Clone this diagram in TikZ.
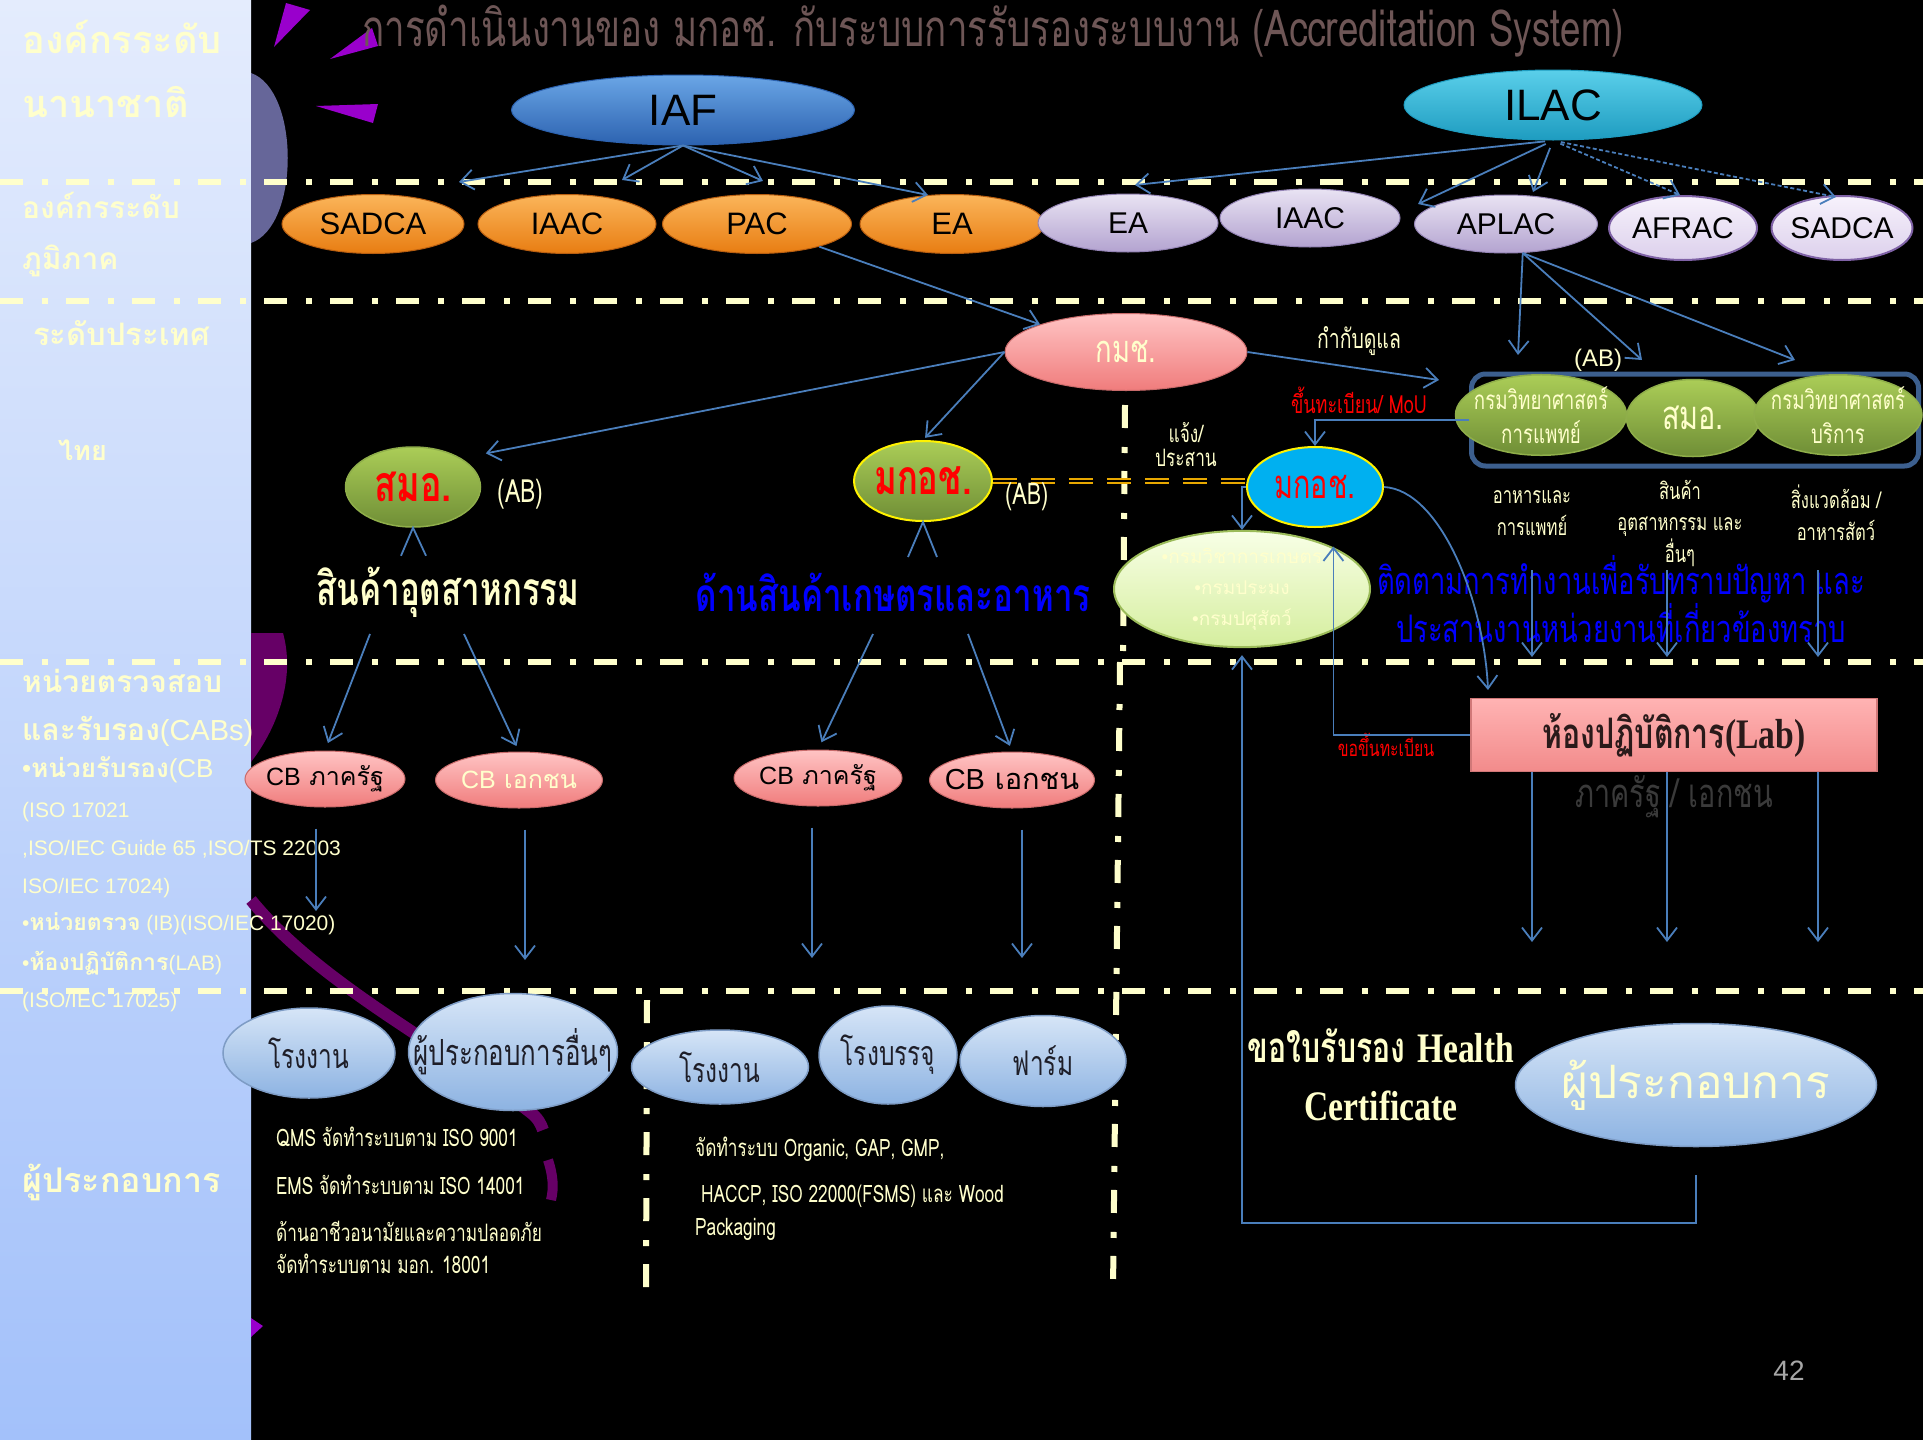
\documentclass[tikz,border=0pt]{standalone}
\usepackage{fontspec}
\setmainfont{Liberation Sans}
\newfontfamily\latsans{Liberation Sans}
\newfontfamily\thaifont[Script=Thai]{Loma}
\newfontfamily\thainarrow[Script=Thai,FakeStretch=0.72]{Loma}
\newfontfamily\serifnarrow[FakeStretch=0.8]{Liberation Serif}
\usetikzlibrary{shapes.geometric}
\usetikzlibrary{arrows.meta, positioning}

\newcommand{\fsz}[1]{\fontsize{#1}{#1}\selectfont}
\newcommand{\bul}{{\latsans\textbullet}}

\definecolor{cream}{HTML}{FFFFCC}
\definecolor{arrblue}{HTML}{4A7EBB}
\definecolor{paneltop}{HTML}{E4ECFD}
\definecolor{panelbot}{HTML}{A3C1FA}
\definecolor{slate}{HTML}{666699}
\definecolor{violetdeco}{HTML}{9900CC}
\definecolor{plumdeco}{HTML}{660066}
\definecolor{titlegrey}{HTML}{6E5656}
\definecolor{iaftop}{HTML}{6AA6E6}
\definecolor{iafbot}{HTML}{2C62B0}
\definecolor{ilactop}{HTML}{5ACFEA}
\definecolor{ilacbot}{HTML}{1E9CC0}
\definecolor{orgtop}{HTML}{FBB55A}
\definecolor{orgbot}{HTML}{E87D12}
\definecolor{orgline}{HTML}{B85E10}
\definecolor{lavtop}{HTML}{E9E3F3}
\definecolor{lavbot}{HTML}{B3A3D0}
\definecolor{lavline}{HTML}{9484B5}
\definecolor{paltop}{HTML}{F7F2FC}
\definecolor{palbot}{HTML}{DCD0EC}
\definecolor{palline}{HTML}{7F62A6}
\definecolor{pnktop}{HTML}{FFC4C4}
\definecolor{pnkbot}{HTML}{F07C7C}
\definecolor{pnkline}{HTML}{C86A6A}
\definecolor{grntop}{HTML}{ABCD57}
\definecolor{grnbot}{HTML}{6F8E36}
\definecolor{grnline}{HTML}{8FAE4A}
\definecolor{skyblue}{HTML}{00B0F0}
\definecolor{paletop}{HTML}{F8FFE6}
\definecolor{palebot}{HTML}{D5EE9E}
\definecolor{paleline}{HTML}{9BBB59}
\definecolor{bubtop}{HTML}{D6E5F7}
\definecolor{bubbot}{HTML}{8DB3E2}
\definecolor{bubline}{HTML}{7E9CC5}
\definecolor{bubtext}{HTML}{1E1E28}
\definecolor{labtop}{HTML}{FFB3B3}
\definecolor{labbot}{HTML}{F28B8B}
\definecolor{labline}{HTML}{D17878}
\definecolor{labtext}{HTML}{2A1A1A}
\definecolor{boxblue}{HTML}{3C5F8E}
\definecolor{gold}{HTML}{E8A800}
\definecolor{sectorgrey}{HTML}{3A3A3A}
\definecolor{numgrey}{HTML}{A6A6A6}

\begin{document}
\begin{tikzpicture}[x=1pt, y=-1pt,
  levelline/.style={draw=cream, line width=6, dash pattern=on 23pt off 19pt on 6pt off 18pt},
  arr/.style={draw=arrblue, line width=1.8, -{Straight Barb[length=13pt,width=20pt]}},
  dotarr/.style={arr, dash pattern=on 4pt off 2.5pt},
  goldlink/.style={draw=gold, line width=1.5, double=black, double distance=2.5, dash pattern=on 24pt off 14pt},
  lefttxt/.style={anchor=base west, text=cream, inner sep=0},
  note/.style={text=cream, inner sep=0},
  oval/.style={ellipse, inner sep=0pt, line width=1},
  orgoval/.style={oval, minimum height=59, top color=orgtop, bottom color=orgbot, draw=orgline, font=\latsans\fsz{31}},
  lavoval/.style={oval, minimum width=180, minimum height=58, top color=lavtop, bottom color=lavbot, draw=lavline, font=\latsans\fsz{30}},
  paloval/.style={oval, minimum height=64, top color=paltop, bottom color=palbot, draw=palline, line width=2, font=\latsans\fsz{30}},
  greencirc/.style={oval, top color=grntop, bottom color=grnbot, draw=grnline, line width=1.5},
  pinkoval/.style={oval, inner xsep=-6pt, top color=pnktop, bottom color=pnkbot, draw=pnkline, font=\thaifont\fsz{25}},
  bubble/.style={oval, top color=bubtop, bottom color=bubbot, draw=bubline, line width=1.5, text=bubtext, font=\thainarrow\fsz{34}}
]
\useasboundingbox (0,0) rectangle (1923,1440);

% Draw background
\fill[black] (0,0) rectangle (1923,1440);
\shade[top color=paneltop, bottom color=panelbot] (0,0) rectangle (251,1440);

% Draw decorations
\fill[slate] (251,73) .. controls (300,90) and (300,226) .. (251,243) -- cycle;
\fill[violetdeco] (274,47) -- (286,3) -- (310,10) -- cycle;
\fill[violetdeco] (330,59) -- (372,28) -- (378,46) -- cycle;
\fill[violetdeco] (316,106) -- (378,104) -- (373,123) -- cycle;
\fill[violetdeco] (251,1318) -- (263,1326) -- (251,1337) -- cycle;
\fill[plumdeco] (251,633) -- (283,633) .. controls (296,680) and (276,730) .. (251,762) -- cycle;
\draw[plumdeco, line width=12] (251,900) .. controls (320,985) and (450,1050) .. (530,1112) .. controls (538,1118) and (541,1124) .. (543,1130);
\draw[plumdeco, line width=10] (548,1160) .. controls (553,1175) and (554,1188) .. (551,1200);

% Draw level lines
\foreach \y in {182,301,662,991}
  \draw[levelline] (0,\y) -- (1923,\y);
\draw[levelline] (1125,405) -- (1123,662);
\draw[levelline] (1120,662) -- (1113,1290);
\draw[levelline] (647,1000) -- (646,1290);

% Draw title
\node[text=titlegrey, font=\thainarrow\fsz{51}] (title) at (993,31) {การดำเนินงานของ มกอช. กับระบบการรับรองระบบงาน (Accreditation System)};

% Draw level names
\node[lefttxt, font=\thaifont\bfseries\fsz{38}] (intlA) at (22,53) {องค์กรระดับ};
\node[lefttxt, font=\thaifont\bfseries\fsz{38}] (intlB) at (22,117) {นานาชาติ};
\node[lefttxt, font=\thaifont\bfseries\fsz{30}] (regA) at (22,218) {องค์กรระดับ};
\node[lefttxt, font=\thaifont\bfseries\fsz{30}] (regB) at (22,269) {ภูมิภาค};
\node[lefttxt, font=\thaifont\bfseries\fsz{31}] (natA) at (33,345) {ระดับประเทศ};
\node[lefttxt, font=\thaifont\bfseries\fsz{27}] (natB) at (58,460) {ไทย};
\node[lefttxt, font=\fsz{30}] (cabA) at (22,692) {\thaifont\bfseries หน่วยตรวจสอบ};
\node[lefttxt, font=\fsz{29}] (cabB) at (22,740) {{\thaifont\bfseries\fsz{30}และรับรอง}(CABs)};
\node[lefttxt, font=\fsz{26}] (cabC) at (22,777) {\bul{\thaifont\bfseries หน่วยรับรอง}(CB};
\node[lefttxt, font=\fsz{21}] (cabD) at (22,817) {(ISO 17021};
\node[lefttxt, font=\fsz{21}] (cabE) at (22,855) {,ISO/IEC Guide 65 ,ISO/TS 22003};
\node[lefttxt, font=\fsz{21}] (cabF) at (22,893) {ISO/IEC 17024)};
\node[lefttxt, font=\fsz{21}] (cabG) at (22,930) {\bul{\thaifont\bfseries\fsz{23}หน่วยตรวจ} (IB)(ISO/IEC 17020)};
\node[lefttxt, font=\fsz{21}] (cabH) at (22,970) {\bul{\thaifont\bfseries\fsz{23}ห้องปฏิบัติการ}(LAB)};
\node[lefttxt, font=\fsz{21}] (cabI) at (22,1007) {(ISO/IEC 17025)};
\node[lefttxt, font=\thaifont\bfseries\fsz{34}] (opL) at (22,1192) {ผู้ประกอบการ};

% Draw international bodies
\node[oval, minimum width=343, minimum height=70, top color=iaftop, bottom color=iafbot, draw=iafbot, font=\latsans\fsz{44}] (iaf) at (683,110) {IAF};
\node[oval, minimum width=298, minimum height=70, top color=ilactop, bottom color=ilacbot, draw=ilacbot, font=\latsans\fsz{44}] (ilac) at (1553,105) {ILAC};

% Draw regional bodies
\node[orgoval, minimum width=182] (sadcaO) at (373,224) {SADCA};
\node[orgoval, minimum width=178] (iaacO) at (567,224) {IAAC};
\node[orgoval, minimum width=189] (pacO) at (757,224) {PAC};
\node[orgoval, minimum width=184] (eaO) at (952,224) {EA};
\node[lavoval] (eaL) at (1128,223) {EA};
\node[lavoval] (iaacL) at (1310,218) {IAAC};
\node[lavoval, minimum width=183] (aplac) at (1506,224) {APLAC};
\node[paloval, minimum width=148, inner xsep=-4pt] (afrac) at (1683,228) {AFRAC};
\node[paloval, minimum width=141, inner xsep=-4pt] (sadcaL) at (1842,228) {SADCA};

% Draw national bodies
\node[oval, minimum width=242, minimum height=77, top color=pnktop, bottom color=pnkbot, draw=pnkline, text=cream, font=\thainarrow\fsz{38}] (kms) at (1126,352) {กมช.};
\node[note, font=\thainarrow\fsz{27}] (kmsReg) at (1359,341) {กำกับดูแล};
\node[greencirc, minimum width=135, minimum height=80, text=red, font=\thainarrow\bfseries\fsz{50}] (smo) at (413,487) {สมอ.};
\node[note, right=16pt of smo, yshift=-7pt, font=\thainarrow\fsz{32}] (smoAB) {(AB)};
\node[greencirc, draw=yellow, line width=2, minimum width=135, minimum height=80, text=red, font=\thainarrow\bfseries\fsz{48}] (mkg) at (923,481) {มกอช.};
\node[oval, minimum width=136, minimum height=80, fill=skyblue, draw=yellow, line width=2, text=red, font=\thainarrow\fsz{40}] (mkb) at (1315,487) {มกอช.};
\draw[goldlink] (mkg.east) -- (mkg.east -| mkb.west);
\node[note, right=12pt of mkg, yshift=-16pt, font=\thainarrow\fsz{30}] (mkgAB) {(AB)};
\node[note, font=\thainarrow\fsz{24}, align=center] (inform) at (1186,445) {\fontsize{24}{31}\selectfont แจ้ง/\\ประสาน};
\node[note, text=red, font=\thainarrow\fsz{25}] (regMou) at (1359,400) {ขึ้นทะเบียน/ MoU};
\node[oval, minimum width=256, minimum height=93, top color=paletop, bottom color=palebot, draw=paleline, line width=2, text=cream, align=center, font=\thaifont\fontsize{19}{31}\selectfont] (pale) at (1242,589) {\bul กรมวิชาการเกษตร\\\bul กรมประมง\\\bul กรมปศุสัตว์};

% Draw AB box
\node[draw=boxblue, line width=5, rounded corners=14, minimum width=447, minimum height=92, inner sep=0] (abbox) at (1695,420) {};
\node[note, font=\latsans\fsz{24}] (boxAB) at (1598,360) {(AB)};
\node[greencirc, inner xsep=-9pt, minimum width=171, minimum height=70, text=cream, align=center, font=\thainarrow\fontsize{26}{34}\selectfont] (dms) at (1541,415) {กรมวิทยาศาสตร์\\การแพทย์};
\node[greencirc, minimum width=133, minimum height=77, text=cream, font=\thainarrow\fsz{40}] (tisi) at (1693,418) {สมอ.};
\node[greencirc, inner xsep=-9pt, minimum width=168, minimum height=70, text=cream, align=center, font=\thainarrow\fontsize{26}{34}\selectfont] (dss) at (1838,415) {กรมวิทยาศาสตร์\\บริการ};
\node[note, align=center, font=\thainarrow\fontsize{23}{32}\selectfont] (foodTxt) at (1532,513) {อาหารและ\\การแพทย์};
\node[note, align=center, font=\thainarrow\fontsize{23}{31.5}\selectfont] (prodTxt) at (1680,523) {สินค้า\\อุตสาหกรรม และ\\อื่นๆ};
\node[note, align=center, font=\thainarrow\fontsize{23}{32}\selectfont] (envTxt) at (1836,513) {สิ่งแวดล้อม /\\อาหารสัตว์};
\node[note, text=blue, align=center, font=\thainarrow\fontsize{38}{43}\selectfont] (follow) at (1621,599) {ติดตามการทำงานเพื่อรับทราบปัญหา และ\\ประสานงานหน่วยงานที่เกี่ยวข้องทราบ};

% Draw sectors and CBs
\node[note, font=\thainarrow\bfseries\fsz{46}] (indTxt) at (448,592) {สินค้าอุตสาหกรรม};
\node[note, text=blue, font=\thainarrow\bfseries\fsz{46}] (agrTxt) at (893,592) {ด้านสินค้าเกษตรและอาหาร};
\node[pinkoval, minimum width=160, minimum height=56] (cbGovA) at (325,779) {{\latsans CB} ภาครัฐ};
\node[pinkoval, minimum width=167, minimum height=56, text=cream] (cbPrvA) at (519,780) {{\latsans CB} เอกชน};
\node[pinkoval, minimum width=168, minimum height=56] (cbGovB) at (818,778) {{\latsans CB} ภาครัฐ};
\node[pinkoval, minimum width=165, minimum height=56, inner xsep=-22pt, font=\thaifont\fsz{29}] (cbPrvB) at (1012,780) {{\latsans CB} เอกชน};

% Draw lab
\node[draw=labline, line width=1.5, top color=labtop, bottom color=labbot, minimum width=406, minimum height=73, inner sep=0, text=labtext, font=\fsz{42}] (lab) at (1674,735) {{\thainarrow\bfseries ห้องปฏิบัติการ}{\serifnarrow\bfseries (Lab)}};
\node[note, text=sectorgrey, font=\thainarrow\fsz{40}] (labSector) at (1674,797) {ภาครัฐ / เอกชน};
\node[note, text=red, font=\thainarrow\fsz{22}] (labReg) at (1386,745) {ขอขึ้นทะเบียน};

% Draw operators
\node[bubble, minimum width=172, minimum height=90] (factA) at (309,1053) {โรงงาน};
\node[bubble, inner xsep=-30pt, minimum width=209, minimum height=117, font=\thainarrow\fsz{36}] (opOther) at (513,1052) {ผู้ประกอบการอื่นๆ};
\node[bubble, minimum width=177, minimum height=74] (factB) at (720,1067) {โรงงาน};
\node[bubble, minimum width=138, minimum height=98] (pack) at (888,1055) {โรงบรรจุ};
\node[bubble, minimum width=166, minimum height=91] (farm) at (1043,1061) {ฟาร์ม};
\node[bubble, inner xsep=-10pt, minimum width=361, minimum height=123, text=cream, font=\thaifont\fsz{46}] (opR) at (1696,1085) {ผู้ประกอบการ};
\node[note, align=center, font=\fontsize{42}{58}\selectfont] (healthCert) at (1381,1075) {{\thainarrow\bfseries ขอใบรับรอง} {\serifnarrow\bfseries Health}\\{\serifnarrow\bfseries Certificate}};

% Draw system notes
\node[note, anchor=west, font=\thainarrow\fsz{24}] (qms) at (276,1137) {QMS จัดทำระบบตาม ISO 9001};
\node[note, anchor=west, font=\thainarrow\fsz{24}] (ems) at (276,1185) {EMS จัดทำระบบตาม ISO 14001};
\node[note, anchor=west, font=\thainarrow\fsz{24}] (ohsA) at (276,1231) {ด้านอาชีวอนามัยและความปลอดภัย};
\node[note, anchor=west, font=\thainarrow\fsz{24}] (ohsB) at (276,1264) {จัดทำระบบตาม มอก. 18001};
\node[note, anchor=west, font=\thainarrow\fsz{24}] (agrA) at (695,1149) {จัดทำระบบ Organic, GAP, GMP,};
\node[note, anchor=west, font=\thainarrow\fsz{24}] (agrB) at (701,1196) {HACCP, ISO 22000(FSMS) และ Wood};
\node[note, anchor=west, font=\thainarrow\fsz{24}] (agrC) at (695,1229) {Packaging};
\node[text=numgrey, font=\latsans\fsz{28}] (pageNo) at (1789,1371) {42};

% Draw free ends
\coordinate (iafA) at (459,182);
\coordinate (iafB) at (622,180);
\coordinate (iafC) at (763,181);
\coordinate (iafD) at (928,195);
\coordinate (ilacA) at (1135,185);
\coordinate (ilacB) at (1418,204);
\coordinate (ilacC) at (1533,192);
\coordinate (ilacD) at (1680,195);
\coordinate (ilacE) at (1836,197);
\coordinate (aplA) at (1518,355);
\coordinate (aplB) at (1642,360);
\coordinate (aplC) at (1795,360);
\coordinate (kmsEnd) at (1439,380);
\coordinate (labIn) at (1488,690);
\coordinate (certTurn) at (1242,1223);
\coordinate (indL) at (370,634);
\coordinate (indR) at (464,634);
\coordinate (agrL) at (873,634);
\coordinate (agrR) at (968,634);
\coordinate (cbOutA) at (316,911);
\coordinate (cbOutB) at (525,960);
\coordinate (cbOutC) at (812,958);
\coordinate (cbOutD) at (1022,958);

% Draw arrows
\foreach \tgt in {iafA,iafB,iafC,iafD}
  \draw[arr] (iaf.south) -- (\tgt);
\foreach \tgt in {ilacA,ilacB,ilacC}
  \draw[arr, shorten <=8pt] (ilac.south) -- (\tgt);
\foreach \tgt in {ilacD,ilacE}
  \draw[dotarr, shorten <=8pt] (ilac.south) -- (\tgt);
\draw[arr] (pacO.-20) -- (kms.north west);
\foreach \tgt in {aplA,aplB,aplC}
  \draw[arr] (aplac.-60) -- (\tgt);
\draw[arr, shorten >=25pt] (kms.west) -- (smo.north east);
\draw[arr, shorten >=3pt] (kms.west) -- (mkg.north);
\draw[arr] (kms.east) -- (kmsEnd);
\draw[arr] (abbox.west) -| (mkb.north);
\draw[arr] (mkb.west) -| (pale.north);
\draw[arr, shorten >=20pt] (lab.west) -| (mkb.-65);
\draw[arr] (mkb.east) .. controls (1440,490) and (1484,600) .. (labIn);
\draw[arr, shorten <=28pt, shorten >=7pt] (opR.south) |- (certTurn) -- (pale.south);
\foreach \x [count=\i] in {1532,1667,1818} {
  \coordinate (lvTop\i) at (\x,570);
  \coordinate (lvMid\i) at (\x,657);
  \coordinate (lvLow\i) at (\x,942);
  \draw[arr] (lvTop\i) -- (lvMid\i);
  \draw[arr] (lab.south -| lvLow\i) -- (lvLow\i);
}
\draw[arr, shorten >=8pt] (indL) -- (cbGovA.north);
\draw[arr, shorten >=6pt] (indR) -- (cbPrvA.north);
\draw[arr, shorten >=8pt] (agrL) -- (cbGovB.north);
\draw[arr, shorten >=6pt] (agrR) -- (cbPrvB.north);
\draw[arr, shorten <=21pt] (cbGovA.south -| cbOutA) -- (cbOutA);
\draw[arr, shorten <=21pt] (cbPrvA.south -| cbOutB) -- (cbOutB);
\draw[arr, shorten <=21pt] (cbGovB.south -| cbOutC) -- (cbOutC);
\draw[arr, shorten <=21pt] (cbPrvB.south -| cbOutD) -- (cbOutD);

% Draw open tips under the AB circles
\draw[arrblue, line width=1.8] (smo.south) ++(-12,28) -- (smo.south) -- ++(13,28);
\draw[arrblue, line width=1.8] (mkg.south) ++(-15,35) -- (mkg.south) -- ++(14,35);

\end{tikzpicture}
\end{document}
